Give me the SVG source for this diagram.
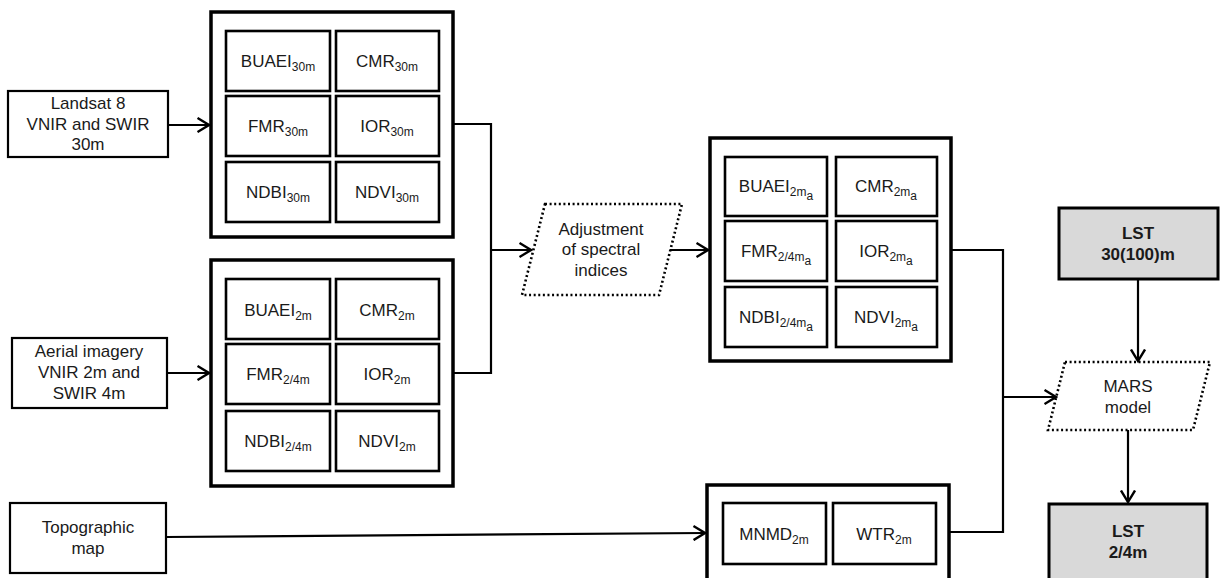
<svg xmlns="http://www.w3.org/2000/svg" width="1220" height="578" viewBox="0 0 1220 578">
<defs>
<style>
text{font-family:"Liberation Sans",Arial,sans-serif;font-size:17px;fill:#1a1a1a;text-anchor:middle}
.b{font-weight:bold}
.s{font-size:12px}
.in{fill:#fff;stroke:#000;stroke-width:2.2}
.outer{fill:#fff;stroke:#000;stroke-width:3.5}
.cell{fill:#fff;stroke:#000;stroke-width:2.6}
.lst{fill:#d9d9d9;stroke:#000;stroke-width:3}
.dot{fill:#fff;stroke:#000;stroke-width:2.6;stroke-dasharray:2 2.6}
.c{fill:none;stroke:#000;stroke-width:2.2}
</style>
<marker id="ah" viewBox="0 0 14 16" refX="12.5" refY="8" markerWidth="14" markerHeight="16" markerUnits="userSpaceOnUse" orient="auto">
<path d="M1,1 L12.5,8 L1,15" fill="none" stroke="#000" stroke-width="2.4"/>
</marker>
</defs>
<rect width="1220" height="578" fill="#fff"/>

<g id="landsat">
<rect class="in" x="8" y="91" width="160" height="66"/>
<text x="88" y="109">Landsat 8</text>
<text x="88" y="130">VNIR and SWIR</text>
<text x="88" y="150">30m</text>
</g>
<g id="aerial">
<rect class="in" x="12" y="338" width="155" height="70"/>
<text x="89" y="357">Aerial imagery</text>
<text x="89" y="378">VNIR 2m and</text>
<text x="89" y="399">SWIR 4m</text>
</g>
<g id="topographic">
<rect class="in" x="10" y="503" width="156" height="70"/>
<text x="88" y="533">Topographic</text>
<text x="88" y="554">map</text>
</g>

<g id="indices30m">
<rect class="outer" x="211" y="12" width="242" height="225"/>
<rect class="cell" x="226" y="31" width="104" height="60"/>
<rect class="cell" x="336" y="31" width="103" height="60"/>
<rect class="cell" x="226" y="96" width="104" height="60"/>
<rect class="cell" x="336" y="96" width="103" height="60"/>
<rect class="cell" x="226" y="162" width="104" height="60"/>
<rect class="cell" x="336" y="162" width="103" height="60"/>
<text x="278" y="67">BUAEI<tspan class="s" dy="4">30m</tspan></text>
<text x="387" y="67">CMR<tspan class="s" dy="4">30m</tspan></text>
<text x="278" y="132">FMR<tspan class="s" dy="4">30m</tspan></text>
<text x="387" y="132">IOR<tspan class="s" dy="4">30m</tspan></text>
<text x="278" y="198">NDBI<tspan class="s" dy="4">30m</tspan></text>
<text x="387" y="198">NDVI<tspan class="s" dy="4">30m</tspan></text>
</g>

<g id="indices2m">
<rect class="outer" x="211" y="260" width="242" height="226"/>
<rect class="cell" x="226" y="279" width="104" height="60"/>
<rect class="cell" x="336" y="279" width="103" height="60"/>
<rect class="cell" x="226" y="344" width="104" height="60"/>
<rect class="cell" x="336" y="344" width="103" height="60"/>
<rect class="cell" x="226" y="411" width="104" height="60"/>
<rect class="cell" x="336" y="411" width="103" height="60"/>
<text x="278" y="316">BUAEI<tspan class="s" dy="4">2m</tspan></text>
<text x="387" y="316">CMR<tspan class="s" dy="4">2m</tspan></text>
<text x="278" y="380">FMR<tspan class="s" dy="4">2/4m</tspan></text>
<text x="387" y="380">IOR<tspan class="s" dy="4">2m</tspan></text>
<text x="278" y="447">NDBI<tspan class="s" dy="4">2/4m</tspan></text>
<text x="387" y="447">NDVI<tspan class="s" dy="4">2m</tspan></text>
</g>

<g id="adjustment">
<polygon class="dot" points="545,204 682,204 659,295 522,295"/>
<text x="601" y="235">Adjustment</text>
<text x="601" y="255">of spectral</text>
<text x="601" y="276">indices</text>
</g>

<g id="indicesAdjusted">
<rect class="outer" x="710" y="138" width="241" height="223"/>
<rect class="cell" x="725" y="157" width="102" height="59"/>
<rect class="cell" x="836" y="157" width="101" height="59"/>
<rect class="cell" x="725" y="221" width="102" height="60"/>
<rect class="cell" x="836" y="221" width="101" height="60"/>
<rect class="cell" x="725" y="287" width="102" height="60"/>
<rect class="cell" x="836" y="287" width="101" height="60"/>
<text x="776" y="192">BUAEI<tspan class="s" dy="4">2m</tspan><tspan class="s" dy="4">a</tspan></text>
<text x="886" y="192">CMR<tspan class="s" dy="4">2m</tspan><tspan class="s" dy="4">a</tspan></text>
<text x="776" y="257">FMR<tspan class="s" dy="4">2/4m</tspan><tspan class="s" dy="4">a</tspan></text>
<text x="886" y="257">IOR<tspan class="s" dy="4">2m</tspan><tspan class="s" dy="4">a</tspan></text>
<text x="776" y="323">NDBI<tspan class="s" dy="4">2/4m</tspan><tspan class="s" dy="4">a</tspan></text>
<text x="886" y="323">NDVI<tspan class="s" dy="4">2m</tspan><tspan class="s" dy="4">a</tspan></text>
</g>

<g id="topoIndices">
<rect class="outer" x="707" y="485" width="242" height="110"/>
<rect class="cell" x="723" y="503" width="103" height="61"/>
<rect class="cell" x="833" y="503" width="103" height="61"/>
<text x="774" y="540">MNMD<tspan class="s" dy="4">2m</tspan></text>
<text x="884" y="540">WTR<tspan class="s" dy="4">2m</tspan></text>
</g>

<g id="lst30">
<rect class="lst" x="1059" y="208" width="159" height="71"/>
<text class="b" x="1138" y="239">LST</text>
<text class="b" x="1138" y="260">30(100)m</text>
</g>

<g id="mars">
<polygon class="dot" points="1065,362 1210,362 1193,430 1048,430"/>
<text x="1128" y="392">MARS</text>
<text x="1128" y="413">model</text>
</g>

<g id="lst24">
<rect class="lst" x="1049" y="504" width="158" height="90"/>
<text class="b" x="1128" y="537">LST</text>
<text class="b" x="1128" y="558">2/4m</text>
</g>

<g id="connectors">
<path class="c" d="M168,125 H209" marker-end="url(#ah)"/>
<path class="c" d="M167,373 H209" marker-end="url(#ah)"/>
<path class="c" d="M453,124 H491 V373 H453"/>
<path class="c" d="M491,250 H531" marker-end="url(#ah)"/>
<path class="c" d="M670,250 H708" marker-end="url(#ah)"/>
<path class="c" d="M166,537 L705,533" marker-end="url(#ah)"/>
<path class="c" d="M951,250 H1003 V532 H949"/>
<path class="c" d="M1003,397 H1056" marker-end="url(#ah)"/>
<path class="c" d="M1138,279 V361" marker-end="url(#ah)"/>
<path class="c" d="M1128,430 V502" marker-end="url(#ah)"/>
</g>
</svg>
